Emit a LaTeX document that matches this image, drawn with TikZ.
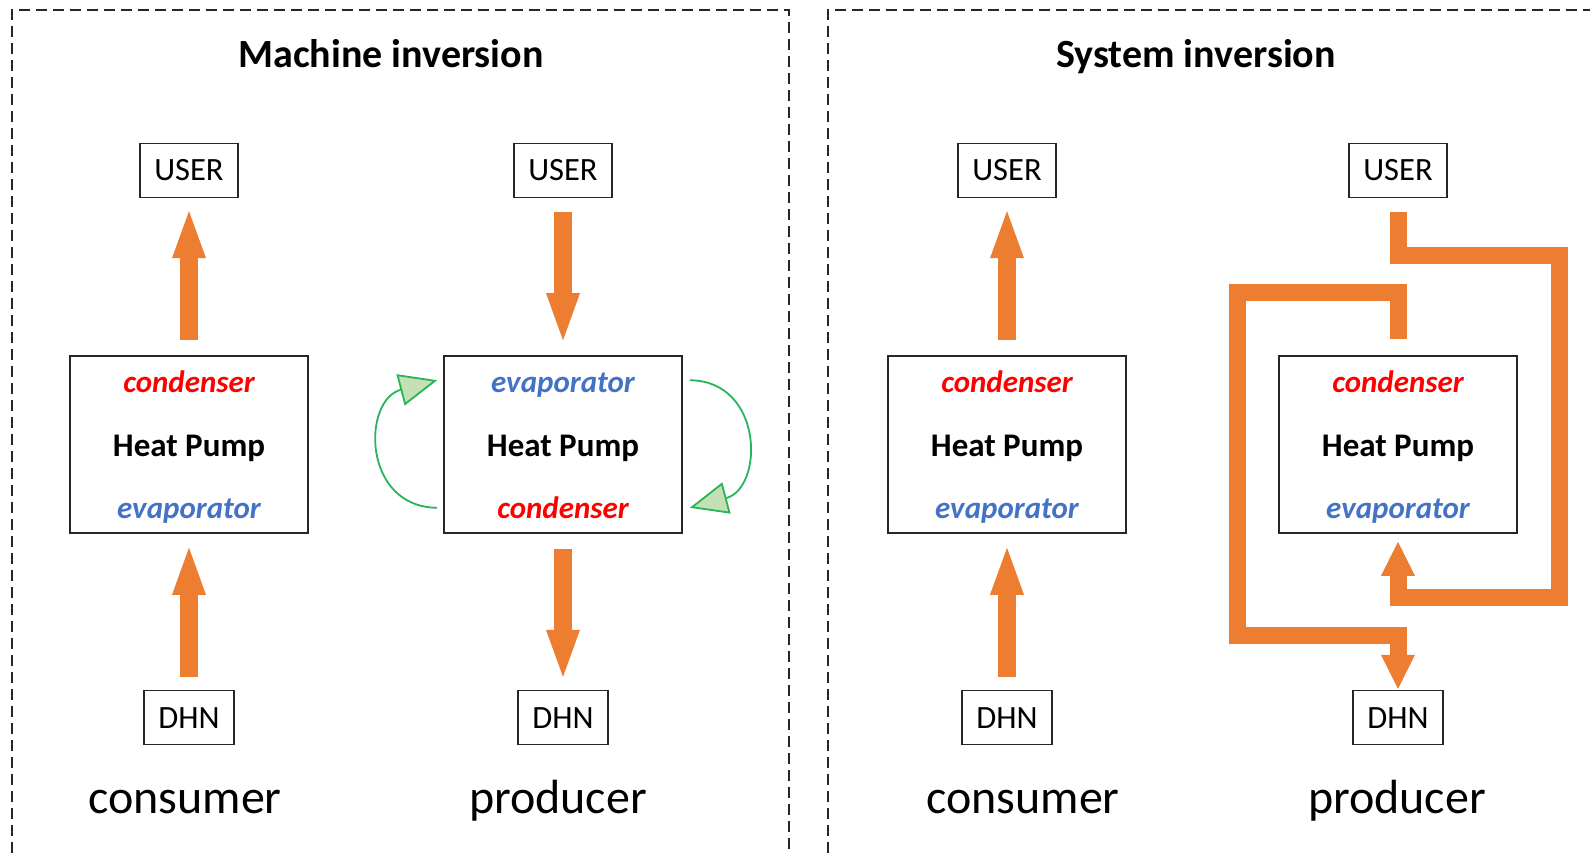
\documentclass[tikz,border=0pt]{standalone}
\usepackage{fontspec}
\setmainfont{Carlito}
\usetikzlibrary{arrows.meta, positioning}
\definecolor{pipe}{HTML}{ED7D31}
\definecolor{hotred}{HTML}{FF0000}
\definecolor{coldblue}{HTML}{4472C4}
\definecolor{loopgreen}{RGB}{40,180,90}
\definecolor{loopfill}{HTML}{C5E0B4}
\definecolor{edge}{HTML}{262626}

\begin{document}
\begin{tikzpicture}[x=1pt, y=-1pt,
    panel/.style = {draw=edge, line width=2.4pt, dash pattern=on 11pt off 6pt},
    endbox/.style = {draw=edge, line width=1.6pt, minimum width=98pt, minimum height=54pt, inner sep=0pt, font=\fontsize{32.5}{39}\selectfont},
    dhnbox/.style = {endbox, minimum width=90pt},
    hp/.style = {draw=edge, line width=1.6pt, minimum width=238pt, minimum height=177pt, inner sep=0pt},
    hpname/.style = {anchor=base, font=\fontsize{33}{40}\selectfont\bfseries},
    hot/.style = {anchor=base, text=hotred, font=\fontsize{31}{37}\selectfont\bfseries\itshape},
    cold/.style = {anchor=base, text=coldblue, font=\fontsize{31}{37}\selectfont\bfseries\itshape},
    heading/.style = {anchor=base, font=\fontsize{40}{48}\selectfont\bfseries},
    roletext/.style = {anchor=base, font=\fontsize{48}{58}\selectfont},
    flow/.style = {draw=pipe, line width=18pt, -{Triangle[width=34pt, length=47pt, line width=0pt]}},
    loopflow/.style = {draw=pipe, line width=17pt, line join=miter, -{Triangle[width=34pt, length=34pt, line width=0pt]}},
    greenloop/.style = {draw=loopgreen, line width=1.8pt, -{Triangle[width=32pt, length=38pt, fill=loopfill]}}]
    \fill[white] (0,0) rectangle (1590,853);
    \useasboundingbox (0,0) rectangle (1590,853);

    % the two panels
    \draw[panel] (12,853) -- (12,10) -- (789,10) -- (789,853);
    \draw[panel] (828,853) -- (828,10) -- (1590,10);
    \node[heading] (machine) at (391,68) {Machine inversion};
    \node[heading] (system) at (1196,68) {System inversion};

    % machine inversion, consumer
    \node[hp] (hpA) at (189,444.5) {};
    \node[hot] (condA) at ([yshift=-37pt]hpA.north) {condenser};
    \node[hpname] (nameA) at ([yshift=-101pt]hpA.north) {Heat Pump};
    \node[cold] (evapA) at ([yshift=-163pt]hpA.north) {evaporator};
    \node[endbox] (userA) [above=157pt of hpA] {USER};
    \node[dhnbox] (dhnA) [below=156pt of hpA] {DHN};
    \node[roletext] (consA) at (185,813) {consumer};
    \draw[flow, shorten <=15pt, shorten >=13pt] (hpA) -- (userA);
    \draw[flow, shorten <=13pt, shorten >=14pt] (dhnA) -- (hpA);

    % machine inversion, producer
    \node[hp] (hpB) at (563,444.5) {};
    \node[cold] (evapB) at ([yshift=-37pt]hpB.north) {evaporator};
    \node[hpname] (nameB) at ([yshift=-101pt]hpB.north) {Heat Pump};
    \node[hot] (condB) at ([yshift=-163pt]hpB.north) {condenser};
    \node[endbox] (userB) [above=157pt of hpB] {USER};
    \node[dhnbox] (dhnB) [below=156pt of hpB] {DHN};
    \node[roletext] (prodB) at (558,813) {producer};
    \draw[flow, shorten <=14pt, shorten >=15pt] (userB) -- (hpB);
    \draw[flow, shorten <=15pt, shorten >=13pt] (hpB) -- (dhnB);
    \coordinate (lowL) at ([xshift=-6pt, yshift=26pt]hpB.south west);
    \coordinate (upL) at ([xshift=-6pt, yshift=-25pt]hpB.north west);
    \coordinate (upR) at ([xshift=7pt, yshift=-25pt]hpB.north east);
    \coordinate (lowR) at ([xshift=7pt, yshift=26pt]hpB.south east);
    \draw[greenloop] (lowL) .. controls (362,507) and (362,400) .. (upL);
    \draw[greenloop] (upR) .. controls (764,381) and (764,488) .. (lowR);

    % system inversion, consumer
    \node[hp] (hpC) at (1007,444.5) {};
    \node[hot] (condC) at ([yshift=-37pt]hpC.north) {condenser};
    \node[hpname] (nameC) at ([yshift=-101pt]hpC.north) {Heat Pump};
    \node[cold] (evapC) at ([yshift=-163pt]hpC.north) {evaporator};
    \node[endbox] (userC) [above=157pt of hpC] {USER};
    \node[dhnbox] (dhnC) [below=156pt of hpC] {DHN};
    \node[roletext] (consC) at (1023,813) {consumer};
    \draw[flow, shorten <=15pt, shorten >=13pt] (hpC) -- (userC);
    \draw[flow, shorten <=13pt, shorten >=14pt] (dhnC) -- (hpC);

    % system inversion, producer
    \node[hp] (hpD) at (1398,444.5) {};
    \node[hot] (condD) at ([yshift=-37pt]hpD.north) {condenser};
    \node[hpname] (nameD) at ([yshift=-101pt]hpD.north) {Heat Pump};
    \node[cold] (evapD) at ([yshift=-163pt]hpD.north) {evaporator};
    \node[endbox] (userD) [above=157pt of hpD] {USER};
    \node[dhnbox] (dhnD) [below=156pt of hpD] {DHN};
    \node[roletext] (prodD) at (1397,813) {producer};
    \draw[loopflow, shorten <=14pt, shorten >=8pt] (userD.south) -- (1398,255) -- (1559.5,255)
        -- (1559.5,597.5) -- (1398,597.5) -- (hpD.south);
    \draw[loopflow, shorten <=16pt, shorten >=1pt] (hpD.north) -- (1398,292) -- (1237.5,292)
        -- (1237.5,635) -- (1398,635) -- (dhnD.north);
\end{tikzpicture}
\end{document}
